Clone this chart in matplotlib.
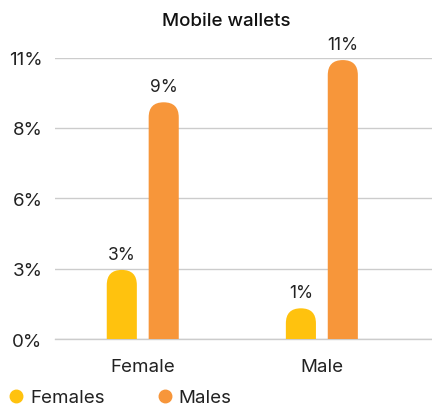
import matplotlib
matplotlib.use('Agg')
import matplotlib.pyplot as plt
from matplotlib.patches import FancyBboxPatch
from matplotlib.lines import Line2D
import numpy as np

plt.rcParams['font.family'] = ['Inter', 'DejaVu Sans']

# data
categories = ['Female', 'Male']
females = [2.7, 1.2]
males = [9.25, 10.9]
series_names = ['Females', 'Males']
colors = ['#FFC20E', '#F7963A']
y_ticks = [0, 2.75, 5.5, 8.25, 11]
y_labels = ['0%', '3%', '6%', '8%', '11%']

fig = plt.figure(figsize=(4.32, 4.10), dpi=100)
ax = fig.add_axes([0.1273, 0.1707, 0.8727, 0.6866])

x = np.arange(len(categories))
w = 0.168
off = 0.117
ax.set_xlim(-0.49, 1.615)
ax.set_ylim(0, 11)

# data units per pixel, to get a round cap instead of an ellipse
bbox = ax.get_window_extent()
xpp = (1.615 + 0.49) / bbox.width
ypp = 11 / bbox.height
aspect = ypp / xpp

for vals, sign, col in [(females, -1, colors[0]), (males, 1, colors[1])]:
    for xi, v in zip(x, vals):
        cx = xi + sign * off
        r = w / 2
        # start below zero so the bottom rounding is clipped away
        p = FancyBboxPatch((cx - w / 2, -r * aspect), w, v + r * aspect,
                           boxstyle='round,pad=0,rounding_size={}'.format(r),
                           mutation_aspect=aspect, fc=col, ec='none', zorder=3)
        ax.add_patch(p)
        ax.annotate('{}%'.format(int(round(v))), (cx, v), xytext=(0, 5),
                    textcoords='offset points', ha='center', va='bottom',
                    fontsize=12.5, color='#222222', clip_on=False)

ax.set_yticks(y_ticks)
ax.set_yticklabels(y_labels)
ax.set_xticks(x)
ax.set_xticklabels(categories)
ax.tick_params(axis='both', length=0, labelsize=13.5, colors='#222222')
ax.tick_params(axis='y', pad=9)
ax.tick_params(axis='x', pad=14)
ax.grid(axis='y', color='#CCCCCC', linewidth=1, zorder=0)
ax.axhline(0, color='#CCCCCC', linewidth=1, zorder=1, clip_on=False)
ax.set_axisbelow(True)
for s in ax.spines.values():
    s.set_visible(False)

fig.text(226 / 432, 1 - 22 / 410, 'Mobile wallets', ha='center', va='center',
         fontsize=13.5, fontweight='medium', color='#111111')

handles = [Line2D([], [], marker='o', ls='none', markersize=9, color=c,
                  label=n) for c, n in zip(colors, series_names)]
fig.legend(handles=handles, loc='lower left', bbox_to_anchor=(-0.028, -0.035),
           ncol=2, frameon=False, fontsize=13.5, handletextpad=0.15,
           columnspacing=2.6, handlelength=1.2, labelcolor='#222222')

fig.savefig('out.png', dpi=100)
